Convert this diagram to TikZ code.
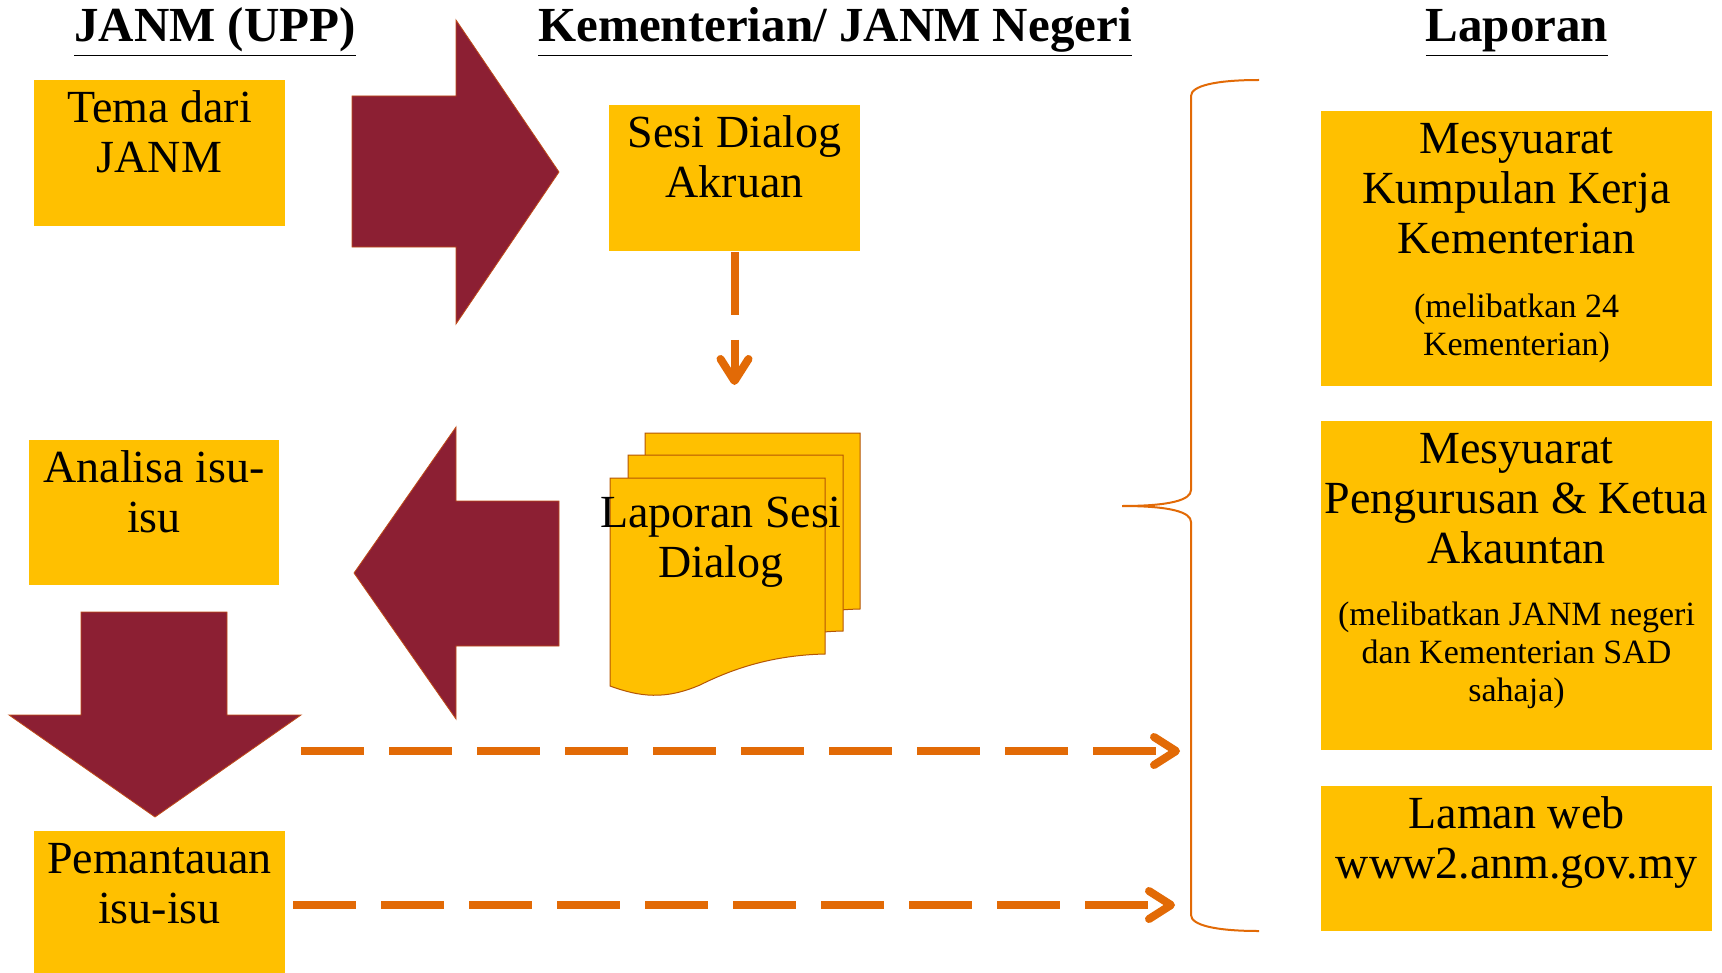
\documentclass[tikz,border=0pt]{standalone}
\usepackage{fontspec}
\setmainfont{Liberation Serif}
\usepackage{xcolor}
\usepackage{tikz}
\usetikzlibrary{positioning,arrows.meta}
\definecolor{gold}{HTML}{FFC000}
\definecolor{maroon}{HTML}{8C1F33}
\definecolor{rust}{HTML}{E26A06}
\tikzset{
  box/.style={fill=gold, align=flush center, inner sep=0pt, text height=21pt, anchor=north, font=\fontsize{23}{25}\selectfont},
  lbl/.style={align=flush center, font=\fontsize{23}{25}\selectfont},
  note/.style={align=flush center, font=\fontsize{17}{19}\selectfont},
  head/.style={anchor=base, font=\fontsize{24.5}{28}\selectfont\bfseries},
  bigarrow/.style={fill=maroon, draw=rust!60!maroon, line width=0.4pt},
  page/.style={fill=gold, draw=rust!80!black, line width=0.5pt},
  flow/.style={rust, line width=4pt, dash pattern=on 31.5pt off 12.5pt, -{Straight Barb[length=11pt,width=14pt,round]}}
}

\begin{document}
\begin{tikzpicture}[x=0.5pt,y=-0.5pt]
\fill[white] (0,0) rectangle (1722,973);
\useasboundingbox (0,0) rectangle (1722,973);
\node[head] (hupp) at (215,42) {\underline{JANM (UPP)}};
\node[head] (hneg) at (835,42) {\underline{Kementerian/ JANM Negeri}};
\node[head] (hlap) at (1517,42) {\underline{Laporan}};

\node[box, text width=125.5pt, text depth=52pt] (tema) at (159.5,80) {Tema dari\\JANM};
\node[box, text width=125.5pt, text depth=52pt] (sesi) at (734.5,105) {Sesi Dialog\\Akruan};
\node[box, text width=125pt, text depth=51.5pt] (analisa) at (154,440) {Analisa isu-\\isu};
\node[box, text width=125.5pt, text depth=50pt] (pantau) at (159.5,831) {Pemantauan\\isu-isu};
\node[box, text width=195.5pt, text depth=116.5pt] (kumpulan) at (1516.5,111) {Mesyuarat\\Kumpulan Kerja\\Kementerian};
\node[note] (nkumpulan) at (1516.5,328) {(melibatkan 24\\Kementerian)};
\node[box, text width=195.5pt, text depth=143.5pt] (urus) at (1516.5,421) {Mesyuarat\\Pengurusan \& Ketua\\Akauntan};
\node[note] (nurus) at (1516.5,655) {(melibatkan JANM negeri\\dan Kementerian SAD\\sahaja)};
\node[box, text width=195.5pt, text depth=51.5pt] (laman) at (1516.5,786) {Laman web\\www2.anm.gov.my};

\filldraw[bigarrow] (352,96) -- (456,96) -- (456,20) -- (559,172) -- (456,324) -- (456,247) -- (352,247) -- cycle;
\filldraw[bigarrow] (559,501) -- (456,501) -- (456,427) -- (354,573) -- (456,719) -- (456,646) -- (559,646) -- cycle;
\filldraw[bigarrow] (81,612) -- (227,612) -- (227,715) -- (301,715) -- (155,817) -- (9,715) -- (81,715) -- cycle;

\foreach \dx/\dy in {35/-45, 18/-23, 0/0}
  \filldraw[page, shift={(\dx,\dy)}] (610,478) -- (825,478) -- (825,654) .. controls (780,655) and (740,665) .. (700,685) .. controls (665,700) and (640,697) .. (610,686) -- cycle;
\node[lbl] (lapsesi) at (721,542) {Laporan Sesi\\Dialog};

\coordinate (sesiend) at (734.5,385);
\draw[flow] (sesi.south) -- (sesiend);

\coordinate (d1s) at (301,751);
\coordinate (d1e) at (1180,751);
\coordinate (d2s) at (293,905);
\coordinate (d2e) at (1175,905);
\draw[flow] (d1s) -- (d1e);
\draw[flow] (d2s) -- (d2e);

\draw[rust, line width=1pt] (1259,80) .. controls (1215,80) and (1191,86) .. (1191,96) -- (1191,490) .. controls (1191,500) and (1170,506) .. (1122,506) .. controls (1170,506) and (1191,512) .. (1191,522) -- (1191,915) .. controls (1191,925) and (1215,931) .. (1259,931);
\end{tikzpicture}
\end{document}
